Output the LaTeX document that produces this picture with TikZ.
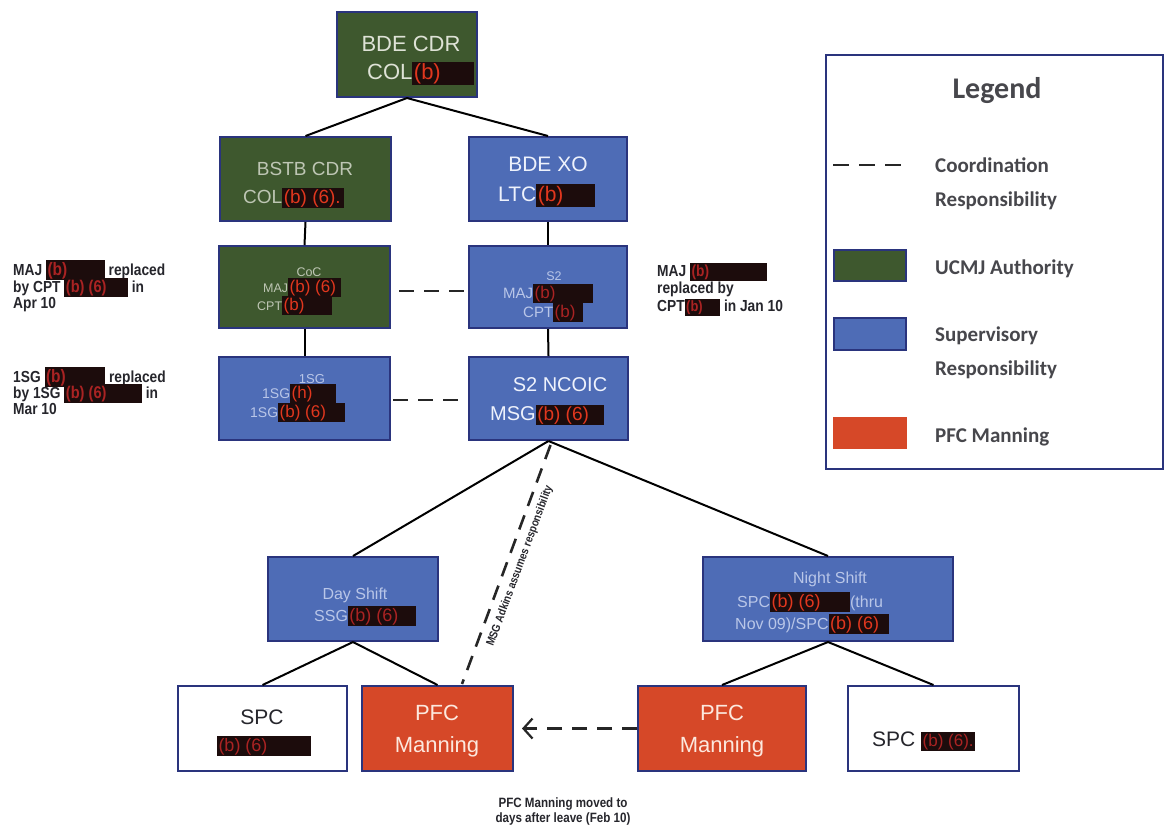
\documentclass[tikz,border=0pt]{standalone}
\usepackage{fontspec}
\setmainfont{Liberation Sans}
\newfontfamily\legendfont{Carlito}
\newfontfamily\narrowfont[FakeStretch=0.86]{Liberation Sans}
\usetikzlibrary{arrows.meta}
\definecolor{ggreen}{RGB}{62,88,46}
\definecolor{bblue}{RGB}{78,108,182}
\definecolor{rred}{RGB}{214,72,40}
\definecolor{bord}{RGB}{42,52,125}
\definecolor{rdbg}{RGB}{28,12,12}
\definecolor{rdfg}{RGB}{225,55,30}
\definecolor{rddim}{RGB}{170,35,35}
\definecolor{gtxt}{RGB}{222,226,214}
\definecolor{gtxt2}{RGB}{190,198,180}
\definecolor{btxt}{RGB}{238,242,252}
\definecolor{btxt2}{RGB}{185,198,232}
\definecolor{ptxt}{RGB}{252,232,222}
\definecolor{dtxt}{RGB}{38,38,44}
\newcommand\rd[2][0pt]{{\setlength\fboxsep{1.5pt}\colorbox{rdbg}{\textcolor{rdfg}{#2}\hspace*{#1}}}}
\newcommand\rdd[2][0pt]{{\setlength\fboxsep{1.5pt}\colorbox{rdbg}{\textcolor{rddim}{#2}\hspace*{#1}}}}
\newcommand\fs[1]{\fontsize{#1}{#1}\selectfont}
\begin{document}
\begin{tikzpicture}[x=1pt,y=-1pt,
  box/.style={draw=bord, line width=2pt, inner sep=0pt},
  gbox/.style={box, fill=ggreen},
  bbox/.style={box, fill=bblue},
  rbox/.style={box, fill=rred},
  wbox/.style={box, fill=white},
  conn/.style={draw=black, line width=2pt},
  dashline/.style={draw=black!85, line width=2.6pt, dash pattern=on 15pt off 10pt},
  note/.style={font=\narrowfont\bfseries\fs{16}, text=dtxt, inner sep=0pt},
  lg/.style={font=\legendfont\bfseries\fs{21}, text=dtxt!85, anchor=base west, inner sep=0pt},
  tx/.style={inner sep=0pt}
]
\useasboundingbox (0,0) rectangle (1169,831);
\fill[white] (0,0) rectangle (1169,831);

% ---- boxes ----
\node[gbox, minimum width=140, minimum height=85] (bdecdr) at (407,54.5) {};
\node[gbox, minimum width=171, minimum height=84] (bstb) at (305.5,179) {};
\node[bbox, minimum width=158, minimum height=84] (bdexo) at (548,179) {};
\node[gbox, minimum width=171, minimum height=82] (coc) at (304.5,287) {};
\node[bbox, minimum width=158, minimum height=82] (s2) at (548,287) {};
\node[bbox, minimum width=171, minimum height=83] (fsg) at (304.5,398.5) {};
\node[bbox, minimum width=159, minimum height=83] (ncoic) at (548.5,398.5) {};
\node[bbox, minimum width=170, minimum height=84] (day) at (353,599) {};
\node[bbox, minimum width=250, minimum height=84] (night) at (828,599) {};
\node[wbox, minimum width=169, minimum height=85] (spcL) at (262.5,728.5) {};
\node[rbox, minimum width=151, minimum height=85] (pfcL) at (437.5,728.5) {};
\node[rbox, minimum width=168, minimum height=85] (pfcR) at (722,728.5) {};
\node[wbox, minimum width=171, minimum height=85] (spcR) at (933.5,728.5) {};

% ---- connectors ----
\draw[conn] (bdecdr.south) -- (bstb.north);
\draw[conn] (bdecdr.south) -- (bdexo.north);
\draw[conn] (bstb.south) -- (coc.north);
\draw[conn] (coc.south) -- (fsg.north);
\draw[conn] (bdexo.south) -- (s2.north);
\draw[conn] (s2.south) -- (ncoic.north);
\draw[conn] (ncoic.south) -- (day.north);
\draw[conn] (ncoic.south) -- (night.north);
\draw[conn] (day.south) -- (spcL.north);
\draw[conn] (day.south) -- (pfcL.north);
\draw[conn] (night.south) -- (pfcR.north);
\draw[conn] (night.south) -- (spcR.north);
\draw[dashline] ([xshift=8pt,yshift=-4pt]coc.east) -- ([yshift=-4pt]s2.west);
\draw[dashline] ([xshift=2pt,yshift=-1.5pt]fsg.east) -- ([xshift=-7pt,yshift=-1.5pt]ncoic.west);
\coordinate (adk) at (462,684);
\draw[dashline] ([xshift=2pt,yshift=-4pt]ncoic.south) -- (adk);
\draw[dashline, -{Straight Barb[length=9pt,width=20pt,line width=2.2pt]}] (pfcR.west) -- ([xshift=8pt]pfcL.east);
\node[font=\narrowfont\bfseries\fs{11.5}, text=dtxt, rotate=69.7, inner sep=0pt] (adkt) at (520,566) {MSG Adkins assumes responsibility};

% ---- box texts ----
\node[tx, font=\fs{22}, text=gtxt, anchor=base] (t1) at (411,51) {BDE CDR};
\node[tx, font=\fs{22}, text=gtxt, anchor=base west] (t2) at (367,79) {COL\rd[32pt]{(b)}};
\node[tx, font=\fs{19}, text=gtxt2, anchor=base] (t3) at (305,175) {BSTB CDR};
\node[tx, font=\fs{19}, text=gtxt2, anchor=base west] (t4) at (243,203) {COL\rd[2pt]{(b) (6).}};
\node[tx, font=\fs{21}, text=btxt, anchor=base] (t5) at (548,171) {BDE XO};
\node[tx, font=\fs{21}, text=btxt, anchor=base west] (t6) at (498,201) {LTC\rd[30pt]{(b)}};
\node[tx, font=\fs{12.5}, text=gtxt2, anchor=base] (t7) at (309,276) {CoC};
\node[tx, font=\fs{12.5}, text=gtxt2, anchor=base west] (t8) at (263,292) {MAJ{\fs{17}\rd[4pt]{(b) (6)}}};
\node[tx, font=\fs{12.5}, text=gtxt2, anchor=base west] (t9) at (257,310) {CPT{\fs{17}\rd[26pt]{(b)}}};
\node[tx, font=\fs{12.5}, text=btxt2, anchor=base] (t10) at (554,280) {S2};
\node[tx, font=\fs{15}, text=btxt2, anchor=base west] (t11) at (503,298) {MAJ{\fs{17}\rdd[36pt]{(b)}}};
\node[tx, font=\fs{15}, text=btxt2, anchor=base west] (t12) at (523,317) {CPT{\fs{17}\rdd[6pt]{(b)}}};
\node[tx, font=\fs{13}, text=btxt2, anchor=base] (t13) at (312,383) {1SG};
\node[tx, font=\fs{14}, text=btxt2, anchor=base west] (t14) at (262,398) {1SG{\fs{17}\rd[22pt]{(h)}}};
\node[tx, font=\fs{14}, text=btxt2, anchor=base west] (t15) at (250,417) {1SG{\fs{17}\rd[18pt]{(b) (6)}}};
\node[tx, font=\fs{20}, text=btxt, anchor=base] (t16) at (560,391) {S2 NCOIC};
\node[tx, font=\fs{20}, text=btxt, anchor=base west] (t17) at (490,420) {MSG{\fs{19}\rd[14pt]{(b) (6)}}};
\node[tx, font=\fs{16}, text=btxt2, anchor=base] (t18) at (355,599) {Day Shift};
\node[tx, font=\fs{16}, text=btxt2, anchor=base west] (t19) at (314,621) {SSG{\fs{18}\rdd[16pt]{(b) (6)}}};
\node[tx, font=\fs{16}, text=btxt2, anchor=base] (t20) at (830,583) {Night Shift};
\node[tx, font=\fs{16}, text=btxt2, anchor=base west] (t21) at (737,607) {SPC{\fs{18}\rd[28pt]{(b) (6)}}(thru};
\node[tx, font=\fs{16}, text=btxt2, anchor=base west] (t22) at (735,629) {Nov 09)/SPC{\fs{18}\rd[8pt]{(b) (6)}}};
\node[tx, font=\fs{21}, text=dtxt, anchor=base] (t23) at (262,724) {SPC};
\node[tx, font=\fs{18}, anchor=base] (t24) at (264,751) {\rdd[42pt]{(b) (6)}};
\node[tx, font=\fs{22}, text=ptxt, anchor=base] (t25) at (437,720) {PFC};
\node[tx, font=\fs{22}, text=ptxt, anchor=base] (t26) at (437,752) {Manning};
\node[tx, font=\fs{22}, text=ptxt, anchor=base] (t27) at (722,720) {PFC};
\node[tx, font=\fs{22}, text=ptxt, anchor=base] (t28) at (722,752) {Manning};
\node[tx, font=\fs{21}, text=dtxt, anchor=base west] (t29) at (872,746) {SPC\ {\fs{17}\rdd[0pt]{(b) (6).}}};

% ---- side notes ----
\node[note, anchor=base west] (n1) at (13,275) {MAJ {\fs{18}\rdd[36pt]{(b)}} replaced};
\node[note, anchor=base west] (n2) at (13,292) {by CPT {\fs{17}\rdd[20pt]{(b) (6)}} in};
\node[note, anchor=base west] (n3) at (13,308) {Apr 10};
\node[note, anchor=base west] (n4) at (657,276) {MAJ {\fs{16}\rdd[56pt]{(b)}}};
\node[note, anchor=base west] (n5) at (657,293) {replaced by};
\node[note, anchor=base west] (n6) at (657,311) {CPT{\fs{15}\rdd[16pt]{(b)}} in Jan 10};
\node[note, anchor=base west] (n7) at (13,382) {1SG {\fs{18}\rdd[38pt]{(b)}} replaced};
\node[note, anchor=base west] (n8) at (13,398) {by 1SG {\fs{17}\rdd[34pt]{(b) (6)}} in};
\node[note, anchor=base west] (n9) at (13,414) {Mar 10};
\node[note, font=\narrowfont\bfseries\fs{13.5}, anchor=base] (n10) at (563,807) {PFC Manning moved to};
\node[note, font=\narrowfont\bfseries\fs{13.5}, anchor=base] (n11) at (563,822) {days after leave (Feb 10)};

% ---- legend ----
\node[draw=bord, line width=2.5pt, fill=white, minimum width=337, minimum height=414, inner sep=0pt] (legend) at (994.5,262) {};
\node[tx, font=\legendfont\bfseries\fs{30}, text=dtxt!85, anchor=base] (lgt) at (997,98) {Legend};
\coordinate (ld1) at (833,165);
\coordinate (ld2) at (907,165);
\draw[dashline, dash pattern=on 16pt off 10pt] (ld1) -- (ld2);
\node[lg] (l1) at (935,172) {Coordination};
\node[lg] (l2) at (935,206) {Responsibility};
\node[gbox, minimum width=72, minimum height=31] (lsq1) at (870,265.5) {};
\node[lg] (l3) at (935,274) {UCMJ Authority};
\node[bbox, minimum width=72, minimum height=32] (lsq2) at (870,334) {};
\node[lg] (l4) at (935,341) {Supervisory};
\node[lg] (l5) at (935,375) {Responsibility};
\node[rbox, draw=rred, minimum width=72, minimum height=30] (lsq3) at (870,433) {};
\node[lg] (l6) at (935,442) {PFC Manning};
\end{tikzpicture}
\end{document}
